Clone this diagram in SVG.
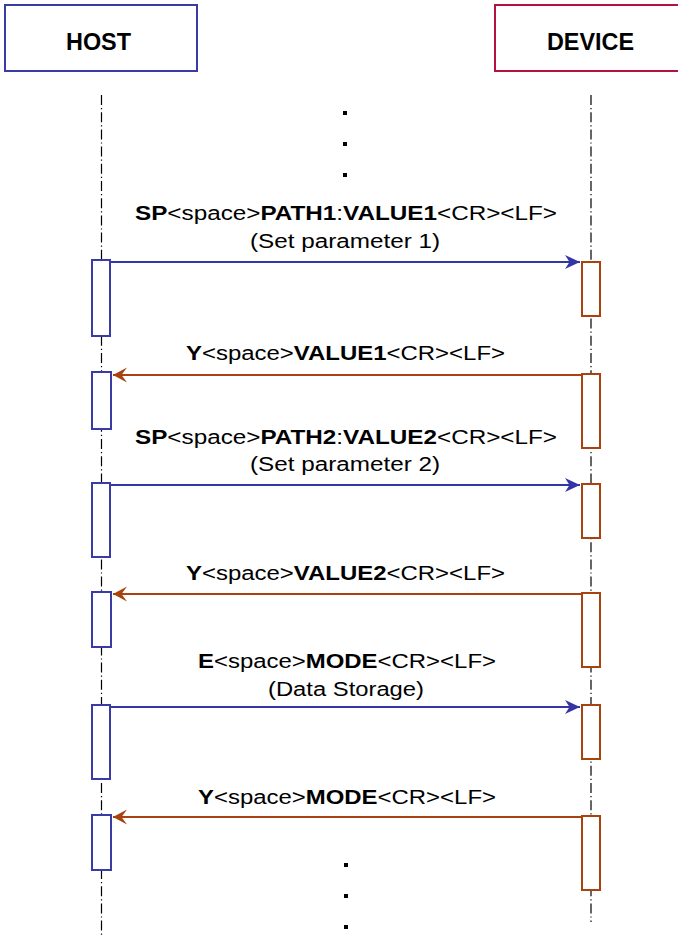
<svg xmlns="http://www.w3.org/2000/svg" width="678" height="935" viewBox="0 0 678 935">
<style>
text{font-family:"Liberation Sans",Arial,sans-serif;font-size:20px;fill:#000}
.b{font-weight:bold}
.hdr{font-weight:bold;font-size:23.5px;text-anchor:start}
.life{stroke:#000;stroke-width:1.2;stroke-dasharray:10 3 1.2 3;fill:none}
.hact{fill:#fff;stroke:#3b3ba6;stroke-width:2}
.dact{fill:#fff;stroke:#a8420f;stroke-width:2}
.req{stroke:#3535a5;stroke-width:2;fill:none;marker-end:url(#ahBlue)}
.rep{stroke:#a8420f;stroke-width:2;fill:none;marker-end:url(#ahBrown)}
.dot{fill:#000}
</style>
<defs>
<marker id="ahBlue" viewBox="-16 -8 17 16" refX="0" refY="0" markerWidth="17" markerHeight="16" markerUnits="userSpaceOnUse" orient="auto">
<path d="M0,0 L-15,-7 L-10.5,0 L-15,7 Z" fill="#3535a5"/>
</marker>
<marker id="ahBrown" viewBox="-16 -8 17 16" refX="0" refY="0" markerWidth="17" markerHeight="16" markerUnits="userSpaceOnUse" orient="auto">
<path d="M0,0 L-14,-7.5 L-8.5,0 L-14,7.5 Z" fill="#a8420f"/>
</marker>
</defs>

<g id="host">
<rect x="5" y="5" width="192" height="66" fill="#fff" stroke="#3b3ba6" stroke-width="2"/>
<text x="66" y="50" class="hdr" textLength="65" lengthAdjust="spacingAndGlyphs">HOST</text>
<line class="life" x1="101.5" y1="95" x2="101.5" y2="935"/>
</g>
<g id="device">
<rect x="495" y="5" width="200" height="66" fill="#fff" stroke="#b3133f" stroke-width="2"/>
<text x="547" y="50" class="hdr" textLength="87" lengthAdjust="spacingAndGlyphs">DEVICE</text>
<line class="life" x1="591" y1="95" x2="591" y2="922"/>
</g>

<g id="host-activations">
<rect class="hact" x="92" y="260" width="18" height="76"/>
<rect class="hact" x="92" y="372" width="19" height="57"/>
<rect class="hact" x="92" y="483" width="18" height="74"/>
<rect class="hact" x="92" y="592" width="19" height="55"/>
<rect class="hact" x="92" y="705" width="18" height="74"/>
<rect class="hact" x="92" y="815" width="19" height="55"/>
</g>
<g id="device-activations">
<rect class="dact" x="582" y="262" width="18" height="54"/>
<rect class="dact" x="582" y="374" width="18" height="74"/>
<rect class="dact" x="582" y="484" width="18" height="54"/>
<rect class="dact" x="582" y="593" width="18" height="74"/>
<rect class="dact" x="582" y="705" width="18" height="54"/>
<rect class="dact" x="582" y="816" width="18" height="74"/>
</g>

<g id="connectors">
<line class="req" x1="111" y1="262" x2="580" y2="262"/>
<line class="rep" x1="581" y1="375" x2="113" y2="375"/>
<line class="req" x1="111" y1="485" x2="580" y2="485"/>
<line class="rep" x1="581" y1="594" x2="113" y2="594"/>
<line class="req" x1="111" y1="707" x2="580" y2="707"/>
<line class="rep" x1="581" y1="817" x2="113" y2="817"/>
</g>

<g id="labels">
<text x="135" y="220" textLength="422" lengthAdjust="spacingAndGlyphs"><tspan class="b">SP</tspan>&lt;space&gt;<tspan class="b">PATH1</tspan>:<tspan class="b">VALUE1</tspan>&lt;CR&gt;&lt;LF&gt;</text>
<text x="250" y="248" textLength="190" lengthAdjust="spacingAndGlyphs">(Set parameter 1)</text>
<text x="186" y="360" textLength="319" lengthAdjust="spacingAndGlyphs"><tspan class="b">Y</tspan>&lt;space&gt;<tspan class="b">VALUE1</tspan>&lt;CR&gt;&lt;LF&gt;</text>
<text x="135" y="444" textLength="422" lengthAdjust="spacingAndGlyphs"><tspan class="b">SP</tspan>&lt;space&gt;<tspan class="b">PATH2</tspan>:<tspan class="b">VALUE2</tspan>&lt;CR&gt;&lt;LF&gt;</text>
<text x="250" y="471" textLength="190" lengthAdjust="spacingAndGlyphs">(Set parameter 2)</text>
<text x="186" y="580" textLength="319" lengthAdjust="spacingAndGlyphs"><tspan class="b">Y</tspan>&lt;space&gt;<tspan class="b">VALUE2</tspan>&lt;CR&gt;&lt;LF&gt;</text>
<text x="198" y="668" textLength="298" lengthAdjust="spacingAndGlyphs"><tspan class="b">E</tspan>&lt;space&gt;<tspan class="b">MODE</tspan>&lt;CR&gt;&lt;LF&gt;</text>
<text x="268" y="696" textLength="156" lengthAdjust="spacingAndGlyphs">(Data Storage)</text>
<text x="198" y="804" textLength="298" lengthAdjust="spacingAndGlyphs"><tspan class="b">Y</tspan>&lt;space&gt;<tspan class="b">MODE</tspan>&lt;CR&gt;&lt;LF&gt;</text>
</g>

<g id="ellipsis-top">
<rect class="dot" x="343" y="111" width="4" height="4"/>
<rect class="dot" x="343" y="142" width="4" height="4"/>
<rect class="dot" x="343" y="173" width="4" height="4"/>
</g>
<g id="ellipsis-bottom">
<rect class="dot" x="344" y="863" width="4" height="4"/>
<rect class="dot" x="344" y="894" width="4" height="4"/>
<rect class="dot" x="344" y="925" width="4" height="4"/>
</g>
</svg>
